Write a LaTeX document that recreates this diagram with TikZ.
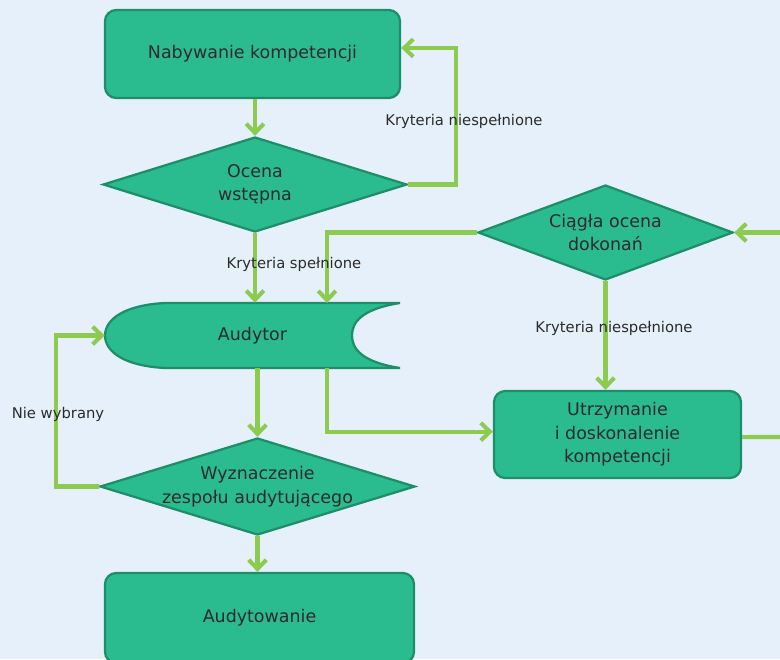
\documentclass[tikz,border=0pt]{standalone}
\usepackage{fontspec}
\setmainfont{DejaVu Sans}
\usepackage{tikz}
\usetikzlibrary{arrows.meta,positioning,shapes.geometric}
\definecolor{bgblue}{HTML}{E6F0FA}
\definecolor{boxfill}{HTML}{2ABB8E}
\definecolor{boxline}{HTML}{1E8E69}
\definecolor{arrgreen}{HTML}{8DCB50}
\definecolor{txt}{HTML}{2B2B2B}

\begin{document}
\begin{tikzpicture}[
  x=0.025cm, y=-0.025cm,
  box/.style={draw=boxline, fill=boxfill, line width=1.6pt, rounded corners=8pt, align=center,
    text=txt, font=\fontsize{12.4}{16.8}\selectfont},
  decbox/.style={box, diamond, rounded corners=0pt, inner sep=0pt},
  arr/.style={-{Straight Barb[length=6.5pt,width=12.5pt]}, line width=2.9pt, draw=arrgreen},
  ln/.style={line width=2.9pt, draw=arrgreen},
  lbl/.style={font=\fontsize{10.5}{12}\selectfont, text=txt},
]
\useasboundingbox (0,0) rectangle (780,659);
\clip (0,0) rectangle (780,659);
\fill[bgblue] (0,0) rectangle (780,659);

% Audytor outline
\filldraw[draw=boxline, fill=boxfill, line width=1.6pt]
  (165,303) -- (400,303) .. controls (362,309) and (352,322) .. (352,335.5)
  .. controls (352,349) and (362,362) .. (400,368) -- (165,368)
  .. controls (125,366) and (105,352) .. (105,335.5)
  .. controls (105,319) and (125,305) .. (165,303) -- cycle;

% left column
\node[box, minimum width=7.375cm, minimum height=2.2cm] (nab) at (252.5,54) {Nabywanie kompetencji};
\node[decbox, aspect=3.2, minimum width=7.6cm, minimum height=2.375cm] (oce) at (255,184.5) {Ocena\\wstępna};
\node[minimum width=7.375cm, minimum height=1.625cm, inner sep=0pt, text=txt,
  font=\fontsize{12.4}{16.8}\selectfont] (aud) at (252.5,335.5) {Audytor};
\node[decbox, inner ysep=-2pt, aspect=3.25, minimum width=7.875cm, minimum height=2.425cm] (wyz) at (257.5,486.5) {Wyznaczenie\\zespołu audytującego};
\node[box, minimum width=7.725cm, minimum height=2.25cm] (adt) at (259.5,618) {Audytowanie};

% right column
\node[decbox, aspect=2.7, minimum width=6.375cm, minimum height=2.375cm] (cia) at (605.5,232.5) {Ciągła ocena\\dokonań};
\node[box, minimum width=6.175cm, minimum height=2.175cm] (utr) at (617.5,434.5) {Utrzymanie\\i doskonalenie\\kompetencji};

\coordinate (ain) at (327,303);
\coordinate (aout) at (327,368);
\coordinate (re1) at (800,437);
\coordinate (re2) at (800,232.5);

\draw[arr] (oce.north |- nab.south) -- (oce.north);
\draw[arr] (oce.east) -- ++(48,0) |- ([yshift=4.3pt]nab.east);
\draw[arr] (oce.south) -- (oce.south |- aud.north);
\draw[arr] (cia.west) -| (ain);
\draw[arr] (aud.south -| wyz.north) -- (wyz.north);
\draw[arr] (aout) |- ([yshift=2pt]utr.west);
\draw[arr] (wyz.south) -- (wyz.south |- adt.north);
\draw[arr] (wyz.west) -- ++(-43,0) |- (aud.west);
\draw[arr] (cia.south) -- (cia.south |- utr.north);
\draw[ln] ([yshift=-1.8pt]utr.east) -- (re1);
\draw[arr] (re2) -- (cia.east);

\node[lbl] (l1) at (464,121) {Kryteria niespełnione};
\node[lbl] (l2) at (294,264) {Kryteria spełnione};
\node[lbl] (l3) at (614,328) {Kryteria niespełnione};
\node[lbl] (l4) at (58,414) {Nie wybrany};
\end{tikzpicture}
\end{document}
